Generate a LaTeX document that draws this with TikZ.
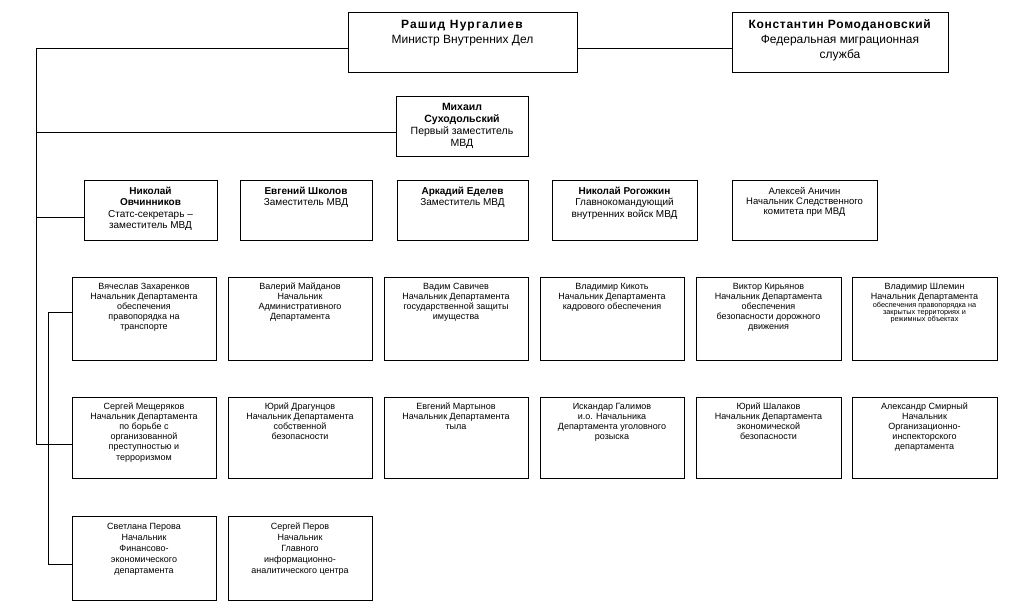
\documentclass[tikz,border=0pt]{standalone}
\usepackage{fontspec}
\setmainfont{Liberation Sans}
\tikzset{
  obox/.style={draw=black, line width=0.9pt, inner sep=0pt, outer sep=0pt, anchor=north west, fill=white},
  conn/.style={draw=black, line width=0.9pt},
}
\newcommand{\spaced}[2]{{\addfontfeature{LetterSpace=#1}#2}}
% name, x, y, w, h, font size, skip, pad, text
\newcommand{\obx}[9]{%
  \node[obox, minimum width=#4pt, minimum height=#5pt] (#1) at (#2,#3)
  {\parbox[c][#5pt][t]{#4pt}{\centering\fontsize{#6}{#7}\selectfont\rule{0pt}{#8pt}#9\par}};}
\begin{document}
\begin{tikzpicture}[x=1pt,y=-1pt]
\useasboundingbox (0,0) rectangle (1009,613);
% top
\obx{nurg}{348}{12}{229}{60}{12}{15}{16}{\textbf{\spaced{10}{Рашид Нургалиев}}\\Министр Внутренних Дел}
\obx{romo}{732}{12}{216}{60}{12}{15}{16}{\textbf{\spaced{6}{Константин Ромодановский}}\\Федеральная миграционная\\служба}
\obx{sukh}{396}{96}{132}{60}{10.5}{12}{14.5}{\textbf{Михаил}\\\textbf{Суходольский}\\Первый заместитель\\МВД}
% row 2
\obx{ovch}{84}{180}{133}{60}{10}{11.3}{14.5}{\textbf{Николай}\\\textbf{Овчинников}\\Статс-секретарь --\\заместитель МВД}
\obx{shko}{240}{180}{132}{60}{10}{11.3}{14.5}{\textbf{Евгений Школов}\\Заместитель МВД}
\obx{edel}{397}{180}{131}{60}{10}{11.3}{14.5}{\textbf{Аркадий Еделев}\\Заместитель МВД}
\obx{rogo}{552}{180}{145}{60}{10}{11.3}{14.5}{\textbf{Николай Рогожкин}\\Главнокомандующий\\внутренних войск МВД}
\obx{anic}{732}{180}{145}{60}{9.5}{10}{14}{Алексей Аничин\\Начальник Следственного\\комитета при МВД}
% row 3
\obx{zakh}{72}{277}{144}{83}{9}{10.2}{12}{Вячеслав Захаренков\\Начальник Департамента\\обеспечения\\правопорядка на\\транспорте}
\obx{maid}{228}{277}{144}{83}{9}{10.2}{12}{Валерий Майданов\\Начальник\\Административного\\Департамента}
\obx{savi}{384}{277}{144}{83}{9}{10.2}{12}{Вадим Савичев\\Начальник Департамента\\государственной защиты\\имущества}
\obx{kiko}{540}{277}{144}{83}{9}{10.2}{12}{Владимир Кикоть\\Начальник Департамента\\кадрового обеспечения}
\obx{kiry}{696}{277}{145}{83}{9}{10.2}{12}{Виктор Кирьянов\\Начальник Департамента\\обеспечения\\безопасности дорожного\\движения}
\obx{shle}{852}{277}{145}{83}{9}{10.2}{12}{Владимир Шлемин\\Начальник Департамента\par{\fontsize{7.3}{6.6}\selectfont обеспечения правопорядка на\\закрытых территориях и\\режимных объектах\par}}
% row 4
\obx{mesh}{72}{397}{144}{81}{9}{10.2}{12}{Сергей Мещеряков\\Начальник Департамента\\по борьбе с\\организованной\\преступностью и\\терроризмом}
\obx{drag}{228}{397}{144}{81}{9}{10.2}{12}{Юрий Драгунцов\\Начальник Департамента\\собственной\\безопасности}
\obx{mart}{384}{397}{144}{81}{9}{10.2}{12}{Евгений Мартынов\\Начальник Департамента\\тыла}
\obx{gali}{540}{397}{144}{81}{9}{10.2}{12}{Искандар Галимов\\и.о. Начальника\\Департамента уголовного\\розыска}
\obx{shal}{696}{397}{145}{81}{9}{10.2}{12}{Юрий Шалаков\\Начальник Департамента\\экономической\\безопасности}
\obx{smir}{852}{397}{145}{81}{9}{10.2}{12}{Александр Смирный\\Начальник\\Организационно-\\инспекторского\\департамента}
% row 5
\obx{pera}{72}{516}{144}{84}{9}{11.2}{13}{Светлана Перова\\Начальник\\Финансово-\\экономического\\департамента}
\obx{perv}{228}{516}{144}{84}{9}{11.2}{13}{Сергей Перов\\Начальник\\Главного\\информационно-\\аналитического центра}
% connectors
\coordinate (t1) at (36,48);
\coordinate (t2) at (36,444);
\coordinate (b1) at (48,312);
\coordinate (b2) at (48,564);
\draw[conn] (nurg.east |- 0,48) -- (romo.west |- 0,48);
\draw[conn] (nurg.west |- 0,48) -- (t1) -- (t2) -- (mesh.west |- t2);
\draw[conn] (36,132) -- (sukh.west |- 0,132);
\draw[conn] (36,217) -- (ovch.west |- 0,217);
\draw[conn] (zakh.west |- b1) -- (b1) -- (b2) -- (pera.west |- b2);
\end{tikzpicture}
\end{document}
